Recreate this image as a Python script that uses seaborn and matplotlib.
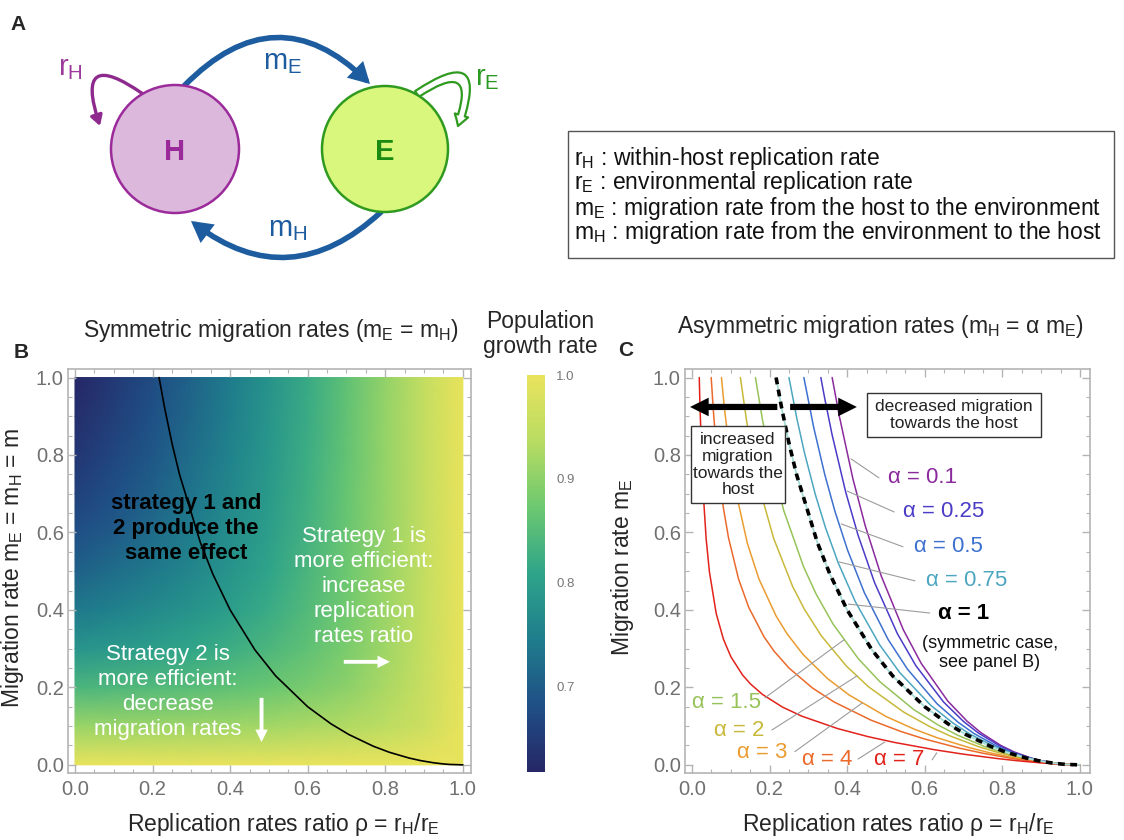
import numpy as np
import pandas as pd
import matplotlib
matplotlib.use("Agg")
import matplotlib.pyplot as plt
from matplotlib.colors import LinearSegmentedColormap
from matplotlib.patches import Circle, FancyArrowPatch, Rectangle
from matplotlib.ticker import MultipleLocator
import seaborn as sns

# ------------------------------------------------------------------
# Data
# ------------------------------------------------------------------
# population growth rate on a (rho, m) grid, rows: m = 0.0 ... 1.0
rho_levels = [0.0, 0.1, 0.2, 0.3, 0.4, 0.5, 0.6, 0.7, 0.8, 0.9, 1.0]
m_levels = [0.0, 0.1, 0.2, 0.3, 0.4, 0.5, 0.6, 0.7, 0.8, 0.9, 1.0]
growth_rate = [
    [1.000, 1.000, 1.000, 1.000, 1.000, 1.000, 1.000, 1.000, 1.000, 1.000, 1.0],
    [0.910, 0.911, 0.912, 0.914, 0.916, 0.919, 0.924, 0.930, 0.941, 0.962, 1.0],
    [0.839, 0.842, 0.847, 0.853, 0.861, 0.870, 0.883, 0.900, 0.924, 0.956, 1.0],
    [0.783, 0.791, 0.800, 0.811, 0.824, 0.841, 0.861, 0.885, 0.916, 0.954, 1.0],
    [0.740, 0.752, 0.766, 0.782, 0.800, 0.822, 0.847, 0.877, 0.912, 0.953, 1.0],
    [0.707, 0.723, 0.740, 0.760, 0.783, 0.809, 0.839, 0.872, 0.910, 0.952, 1.0],
    [0.681, 0.700, 0.721, 0.745, 0.771, 0.800, 0.832, 0.868, 0.908, 0.952, 1.0],
    [0.660, 0.682, 0.706, 0.733, 0.762, 0.793, 0.828, 0.866, 0.907, 0.952, 1.0],
    [0.643, 0.668, 0.694, 0.723, 0.754, 0.788, 0.825, 0.864, 0.906, 0.952, 1.0],
    [0.630, 0.656, 0.685, 0.716, 0.749, 0.784, 0.822, 0.862, 0.906, 0.951, 1.0],
    [0.618, 0.647, 0.677, 0.710, 0.744, 0.781, 0.820, 0.861, 0.905, 0.951, 1.0],
]
growth_min, growth_max = 0.618, 1.0
cbar_ticks = [0.7, 0.8, 0.9, 1.0]
axis_ticks = [0.0, 0.2, 0.4, 0.6, 0.8, 1.0]

# equal-effect curves (rho, m_E) for each ratio alpha = m_H / m_E
rho_a01 = [0.3613, 0.3800, 0.4150, 0.4464, 0.4878, 0.5448, 0.5906, 0.6593, 0.7085, 0.7453,
           0.7968, 0.8310, 0.8736, 0.8991, 0.9281, 0.9498, 0.9666, 1.0]
m_a01 = [1.0, 0.8994, 0.7378, 0.6179, 0.4878, 0.3487, 0.2625, 0.1648, 0.1134, 0.0828,
         0.0498, 0.0332, 0.0178, 0.0111, 0.0055, 0.0026, 0.0011, 0.0]

rho_a025 = [0.3322, 0.3416, 0.3608, 0.3962, 0.4282, 0.4706, 0.5294, 0.5769, 0.6486, 0.7000,
            0.7385, 0.7921, 0.8276, 0.8716, 0.8978, 0.9274, 0.9494, 0.9664, 1.0]
m_a025 = [1.0, 0.9490, 0.8540, 0.7044, 0.5926, 0.4706, 0.3388, 0.2564, 0.1622, 0.1120,
          0.0821, 0.0495, 0.0331, 0.0178, 0.0111, 0.0055, 0.0026, 0.0011, 0.0]

rho_a05 = [0.2884, 0.3137, 0.3420, 0.3684, 0.4009, 0.4444, 0.5056, 0.5556, 0.6316, 0.6863,
           0.7273, 0.7843, 0.8219, 0.8682, 0.8955, 0.9262, 0.9488, 0.9661, 1.0]
m_a05 = [1.0, 0.8715, 0.7507, 0.6550, 0.5549, 0.4444, 0.3236, 0.2469, 0.1579, 0.1098,
         0.0808, 0.0490, 0.0329, 0.0177, 0.0111, 0.0055, 0.0026, 0.0011, 0.0]

rho_a075 = [0.2500, 0.2704, 0.2900, 0.3180, 0.3443, 0.3769, 0.4211, 0.4839, 0.5357, 0.6154,
            0.6731, 0.7164, 0.7767, 0.8163, 0.8649, 0.8933, 0.9250, 0.9482, 0.9659, 1.0]
m_a075 = [1.0, 0.8939, 0.8056, 0.6979, 0.6120, 0.5216, 0.4211, 0.3097, 0.2381, 0.1538,
          0.1077, 0.0796, 0.0485, 0.0327, 0.0177, 0.0110, 0.0055, 0.0026, 0.0011, 0.0]

rho_a1 = [0.2168, 0.2308, 0.2505, 0.2697, 0.3231, 0.3556, 0.4000, 0.4639, 0.5172, 0.6000,
          0.6604, 0.7059, 0.7692, 0.8108, 0.8615, 0.8911, 0.9239, 0.9476, 0.9656, 1.0]
m_a1 = [1.0, 0.9231, 0.8283, 0.7491, 0.5744, 0.4921, 0.4000, 0.2969, 0.2299, 0.1500,
        0.1057, 0.0784, 0.0481, 0.0324, 0.0176, 0.0110, 0.0055, 0.0026, 0.0011, 0.0]

rho_a15 = [0.1636, 0.1811, 0.2000, 0.2365, 0.2877, 0.3194, 0.3636, 0.4286, 0.4839, 0.5714,
           0.6364, 0.6857, 0.7547, 0.8000, 0.8550, 0.8867, 0.9215, 0.9465, 0.9651, 1.0]
m_a15 = [1.0, 0.8944, 0.8000, 0.6568, 0.5114, 0.4421, 0.3636, 0.2743, 0.2151, 0.1429,
         0.1018, 0.0762, 0.0472, 0.0320, 0.0174, 0.0109, 0.0055, 0.0026, 0.0011, 0.0]

rho_a2 = [0.1248, 0.1414, 0.1765, 0.2105, 0.2593, 0.2900, 0.3333, 0.3982, 0.4545, 0.5455,
          0.6140, 0.6667, 0.7407, 0.7895, 0.8485, 0.8824, 0.9192, 0.9453, 0.9645, 1.0]
m_a2 = [1.0, 0.8838, 0.7059, 0.5848, 0.4609, 0.4014, 0.3333, 0.2549, 0.2020, 0.1364,
        0.0982, 0.0741, 0.0463, 0.0316, 0.0173, 0.0109, 0.0054, 0.0026, 0.0011, 0.0]

rho_a3 = [0.0760, 0.0832, 0.0980, 0.1129, 0.1429, 0.1727, 0.2165, 0.2448, 0.2857, 0.3488,
          0.4054, 0.5000, 0.5738, 0.6316, 0.7143, 0.7692, 0.8358, 0.8738, 0.9146, 0.9429,
          0.9635, 1.0]
m_a3 = [1.0, 0.9240, 0.7998, 0.7056, 0.5714, 0.4796, 0.3849, 0.3389, 0.2857, 0.2233,
        0.1802, 0.1250, 0.0918, 0.0702, 0.0446, 0.0308, 0.0171, 0.0108, 0.0054, 0.0026,
        0.0011, 0.0]

rho_a4 = [0.0495, 0.0562, 0.0685, 0.0811, 0.0940, 0.1200, 0.1463, 0.1858, 0.2119, 0.2500,
          0.3103, 0.3659, 0.4615, 0.5385, 0.6000, 0.6897, 0.7500, 0.8235, 0.8654, 0.9100,
          0.9406, 0.9624, 1.0]
m_a4 = [1.0, 0.8989, 0.7616, 0.6625, 0.5872, 0.4800, 0.4065, 0.3304, 0.2932, 0.2500,
        0.1986, 0.1626, 0.1154, 0.0862, 0.0667, 0.0431, 0.0300, 0.0168, 0.0107, 0.0054,
        0.0026, 0.0011, 0.0]

rho_a7 = [0.0188, 0.0207, 0.0284, 0.0365, 0.0449, 0.0625, 0.0811, 0.1004, 0.1304, 0.1509,
          0.1818, 0.2332, 0.2830, 0.3750, 0.4545, 0.5217, 0.6250, 0.6977, 0.7887, 0.8411,
          0.8966, 0.9337, 0.9592, 1.0]
m_a7 = [1.0, 0.9212, 0.7109, 0.5839, 0.4987, 0.3906, 0.3243, 0.2789, 0.2319, 0.2088,
        0.1818, 0.1492, 0.1258, 0.0938, 0.0727, 0.0580, 0.0391, 0.0279, 0.0161, 0.0104,
        0.0053, 0.0026, 0.0011, 0.0]

alpha_names = ["0.1", "0.25", "0.5", "0.75", "1", "1.5", "2", "3", "4", "7"]
alpha_colors = ["#8b2a9c", "#4a3cc6", "#3d70cf", "#4ca6c0", "#000000",
                "#97c35a", "#c8b93a", "#eb9c30", "#ea6a2b", "#e2231c"]

# ------------------------------------------------------------------
# Style
# ------------------------------------------------------------------
sns.set_theme(style="ticks")
plt.rcParams["font.family"] = ["Liberation Sans", "DejaVu Sans"]
plt.rcParams["mathtext.fontset"] = "custom"
plt.rcParams["mathtext.rm"] = "Liberation Sans"
plt.rcParams["mathtext.it"] = "Liberation Sans:italic"
plt.rcParams["mathtext.bf"] = "Liberation Sans:bold"

W, H = 1124, 840
fig = plt.figure(figsize=(W / 100, H / 100), dpi=100)


def fx(x):
    return x / W


def fy(y):
    return 1 - y / H


def sub(base, s):
    return base + r"$_{\mathregular{" + s + "}}$"


LABEL_FS = 16.5
TICK_FS = 14.5
FRAME = "#b4b4b4"

# ------------------------------------------------------------------
# Panel A: two-compartment scheme + legend box
# ------------------------------------------------------------------
axA = fig.add_axes([0, fy(270), 1, 270 / H])
axA.set_xlim(0, W)
axA.set_ylim(270, 0)
axA.axis("off")

axA.add_patch(Circle((175, 149), 64, fc="#dcb9dc", ec="#9b2b9b", lw=1.8, zorder=2))
axA.add_patch(Circle((385, 149), 63, fc="#d8f77c", ec="#2f9a1f", lw=1.8, zorder=2))
axA.text(175, 152, "H", color="#9a2a9a", fontsize=21, fontweight="bold",
         ha="center", va="center", zorder=3)
axA.text(385, 152, "E", color="#1b8a12", fontsize=21, fontweight="bold",
         ha="center", va="center", zorder=3)

blue = "#1d5c9e"
axA.add_patch(FancyArrowPatch((184, 86), (370, 84), connectionstyle="arc3,rad=-0.5",
                              arrowstyle="-|>,head_length=9,head_width=5",
                              color=blue, lw=4, zorder=1, shrinkA=0, shrinkB=0,
                              joinstyle="miter"))
axA.add_patch(FancyArrowPatch((381, 212), (191, 221), connectionstyle="arc3,rad=-0.42",
                              arrowstyle="-|>,head_length=9,head_width=5",
                              color=blue, lw=4, zorder=1, shrinkA=0, shrinkB=0,
                              joinstyle="miter"))
axA.add_patch(FancyArrowPatch((143, 94), (100, 126), connectionstyle="arc3,rad=1.5",
                              arrowstyle="-|>,head_length=6,head_width=3.5",
                              color="#8e2a8e", lw=2.4, zorder=1, shrinkA=0, shrinkB=0))
axA.add_patch(FancyArrowPatch((417, 94), (458, 126), connectionstyle="arc3,rad=-1.5",
                              arrowstyle="simple,head_length=8,head_width=10,tail_width=5",
                              fc="white", ec="#2f9a1f", lw=1.6, zorder=1,
                              shrinkA=0, shrinkB=0))

axA.text(283, 62, sub("m", "E"), color=blue, fontsize=21, ha="center", va="center")
axA.text(288, 229, sub("m", "H"), color=blue, fontsize=21, ha="center", va="center")
axA.text(70, 68, sub("r", "H"), color="#9b3a9b", fontsize=21, ha="center", va="center")
axA.text(487, 78, sub("r", "E"), color="#2a9a22", fontsize=21, ha="center", va="center")

axA.add_patch(Rectangle((568, 131), 546, 127, fill=False, ec="#555555", lw=1.0))
legend_lines = [
    sub("r", "H") + " : within-host replication rate",
    sub("r", "E") + " : environmental replication rate",
    sub("m", "E") + " : migration rate from the host to the environment",
    sub("m", "H") + " : migration rate from the environment to the host",
]
for i, line in enumerate(legend_lines):
    axA.text(574, 158 + 25 * i, line, fontsize=LABEL_FS, ha="left", va="center",
             color="#111111")


# ------------------------------------------------------------------
# Shared frame styling for panels B and C
# ------------------------------------------------------------------
def style_frame(ax, xlim, ylim):
    ax.set_xlim(*xlim)
    ax.set_ylim(*ylim)
    for s in ax.spines.values():
        s.set_visible(True)
        s.set_color(FRAME)
        s.set_linewidth(1.2)
    ax.set_xticks(axis_ticks)
    ax.set_yticks(axis_ticks)
    ax.set_xticklabels([f"{v:.1f}" for v in axis_ticks])
    ax.set_yticklabels([f"{v:.1f}" for v in axis_ticks])
    ax.xaxis.set_minor_locator(MultipleLocator(0.05))
    ax.yaxis.set_minor_locator(MultipleLocator(0.05))
    ax.tick_params(which="both", direction="in", top=True, right=True, color=FRAME,
                   labelcolor="#707070", labelsize=TICK_FS)
    ax.tick_params(which="major", length=6, width=1.0)
    ax.tick_params(which="minor", length=3, width=0.8)
    ax.tick_params(axis="x", pad=5)
    ax.tick_params(axis="y", pad=3)
    ax.set_xlabel("")
    ax.set_ylabel("")


# ------------------------------------------------------------------
# Panel B: growth-rate map with the symmetric equal-effect curve
# ------------------------------------------------------------------
cmap = LinearSegmentedColormap.from_list(
    "bgy", ["#262767", "#1f4f86", "#1f7d8c", "#2ea48a", "#6cc870", "#b8dc62", "#e9e35c"])

axB = fig.add_axes([fx(68), fy(773), 403 / W, 404 / H])
RR, MM = np.meshgrid(rho_levels, m_levels)
mesh = axB.pcolormesh(RR, MM, np.array(growth_rate), shading="gouraud", cmap=cmap,
                      vmin=growth_min, vmax=growth_max, zorder=0)
sns.lineplot(x=rho_a1, y=m_a1, ax=axB, color="black", lw=1.2, sort=False, zorder=3)
style_frame(axB, (-0.018, 1.021), (-0.021, 1.022))

axB.text(0.286, 0.609, "strategy 1 and\n2 produce the\nsame effect", fontsize=16,
         fontweight="bold", color="black", ha="center", va="center", linespacing=1.25)
axB.text(0.745, 0.461, "Strategy 1 is\nmore efficient:\nincrease\nreplication\nrates ratio",
         fontsize=16, color="white", ha="center", va="center", linespacing=1.25)
axB.text(0.24, 0.187, "Strategy 2 is\nmore efficient:\ndecrease\nmigration rates",
         fontsize=16, color="white", ha="center", va="center", linespacing=1.25)
axB.arrow(0.693, 0.266, 0.119, 0, width=0.010, head_width=0.032, head_length=0.032,
          length_includes_head=True, fc="white", ec="none", zorder=4)
axB.arrow(0.481, 0.173, 0, -0.114, width=0.010, head_width=0.032, head_length=0.032,
          length_includes_head=True, fc="white", ec="none", zorder=4)

# colour bar
cax = fig.add_axes([fx(527), fy(772), 18 / W, 397 / H])
cb = fig.colorbar(mesh, cax=cax, ticks=cbar_ticks)
cb.outline.set_visible(False)
cb.ax.set_yticklabels([f"{v:.1f}" for v in cbar_ticks])
cax.tick_params(length=0, labelsize=9.5, labelcolor="#777777", pad=8)

# ------------------------------------------------------------------
# Panel C: equal-effect curves for asymmetric migration
# ------------------------------------------------------------------
axC = fig.add_axes([fx(685), fy(773), 405 / W, 404 / H])
curve_data = [
    ("0.1", rho_a01, m_a01), ("0.25", rho_a025, m_a025), ("0.5", rho_a05, m_a05),
    ("0.75", rho_a075, m_a075), ("1.5", rho_a15, m_a15), ("2", rho_a2, m_a2),
    ("3", rho_a3, m_a3), ("4", rho_a4, m_a4), ("7", rho_a7, m_a7),
]
records = []
for name, xs, ys in curve_data:
    for step, (x, y) in enumerate(zip(xs, ys)):
        records.append({"alpha": name, "rho": x, "m": y, "step": step})
curves = pd.DataFrame(records)
palette = dict(zip(alpha_names, alpha_colors))
order = [n for n in alpha_names if n != "1"]
sns.lineplot(data=curves, x="rho", y="m", hue="alpha", hue_order=order,
             palette={k: palette[k] for k in order}, sort=False, estimator=None,
             lw=1.1, legend=False, ax=axC, zorder=2)
sns.lineplot(x=rho_a1, y=m_a1, ax=axC, color="#a8ddd6", lw=1.3, sort=False, zorder=3)
sns.lineplot(x=rho_a1, y=m_a1, ax=axC, color="black", lw=2.6, sort=False, zorder=3,
             linestyle=(0, (1.9, 1.5)))
style_frame(axC, (-0.018, 1.026), (-0.021, 1.022))

# direction arrows and explanatory boxes
axC.arrow(0.220, 0.924, -0.225, 0, width=0.016, head_width=0.048, head_length=0.048,
          length_includes_head=True, fc="black", ec="none", zorder=6)
axC.arrow(0.253, 0.924, 0.172, 0, width=0.016, head_width=0.048, head_length=0.048,
          length_includes_head=True, fc="black", ec="none", zorder=6)
axC.add_patch(Rectangle((0.451, 0.846), 0.448, 0.114, fc="white", ec="#333333",
                        lw=1.0, zorder=5))
axC.text(0.675, 0.903, "decreased migration\ntowards the host", fontsize=12.5,
         ha="center", va="center", color="#222222", zorder=6, linespacing=1.15)
axC.add_patch(Rectangle((-0.003, 0.676), 0.243, 0.199, fc="white", ec="#333333",
                        lw=1.0, zorder=5))
axC.text(0.1185, 0.775, "increased\nmigration\ntowards the\nhost", fontsize=12.5,
         ha="center", va="center", color="#222222", zorder=6, linespacing=1.15)

# curve labels with leader lines: text position, then the two ends of the leader
label_layout = {
    "0.1": (0.505, 0.741, 0.482, 0.741, 0.410, 0.790),
    "0.25": (0.544, 0.653, 0.521, 0.653, 0.400, 0.707),
    "0.5": (0.572, 0.563, 0.544, 0.563, 0.385, 0.622),
    "0.75": (0.603, 0.475, 0.575, 0.475, 0.379, 0.524),
    "1": (0.634, 0.392, 0.613, 0.392, 0.403, 0.415),
    "1.5": (0.000, 0.160, 0.188, 0.173, 0.392, 0.323),
    "2": (0.057, 0.090, 0.206, 0.090, 0.426, 0.230),
    "3": (0.116, 0.031, 0.265, 0.034, 0.439, 0.160),
    "4": (0.284, 0.015, 0.428, 0.015, 0.497, 0.059),
    "7": (0.469, 0.015, 0.619, 0.013, 0.631, 0.031),
}
for name, color in zip(alpha_names, alpha_colors):
    tx, ty, lx0, ly0, lx1, ly1 = label_layout[name]
    axC.plot([lx0, lx1], [ly0, ly1], color="#9c9c9c", lw=0.8, zorder=4)
    axC.text(tx, ty, f"\u03b1 = {name}", color=color, fontsize=16, ha="left",
             va="center", zorder=6, fontweight="bold" if name == "1" else "normal")
axC.text(0.768, 0.289, "(symmetric case,\nsee panel B)", fontsize=13, ha="center",
         va="center", color="#111111", linespacing=1.15)

# ------------------------------------------------------------------
# Figure-level titles, axis labels and panel letters
# ------------------------------------------------------------------
fig.text(fx(18), fy(25), "A", fontsize=15, fontweight="bold", ha="center", va="center")
fig.text(fx(21), fy(352), "B", fontsize=15, fontweight="bold", ha="center", va="center")
fig.text(fx(626), fy(350), "C", fontsize=15, fontweight="bold", ha="center", va="center")

fig.text(fx(271), fy(331), "Symmetric migration rates (" + sub("m", "E") + " = "
         + sub("m", "H") + ")", fontsize=LABEL_FS, ha="center", va="center")
fig.text(fx(880), fy(327), "Asymmetric migration rates (" + sub("m", "H")
         + " = \u03b1 " + sub("m", "E") + ")", fontsize=LABEL_FS, ha="center", va="center")
fig.text(fx(540), fy(334), "Population\ngrowth rate", fontsize=LABEL_FS, ha="center",
         va="center", linespacing=1.15)

xlab = "Replication rates ratio \u03c1 = " + sub("r", "H") + "/" + sub("r", "E")
fig.text(fx(283), fy(825), xlab, fontsize=LABEL_FS, ha="center", va="center")
fig.text(fx(898), fy(825), xlab, fontsize=LABEL_FS, ha="center", va="center")
fig.text(fx(13), fy(568), "Migration rate " + sub("m", "E") + " = " + sub("m", "H")
         + " = m", fontsize=LABEL_FS, rotation=90, ha="center", va="center")
fig.text(fx(622), fy(567), "Migration rate " + sub("m", "E"), fontsize=LABEL_FS,
         rotation=90, ha="center", va="center")

fig.savefig("out.png", dpi=100)
